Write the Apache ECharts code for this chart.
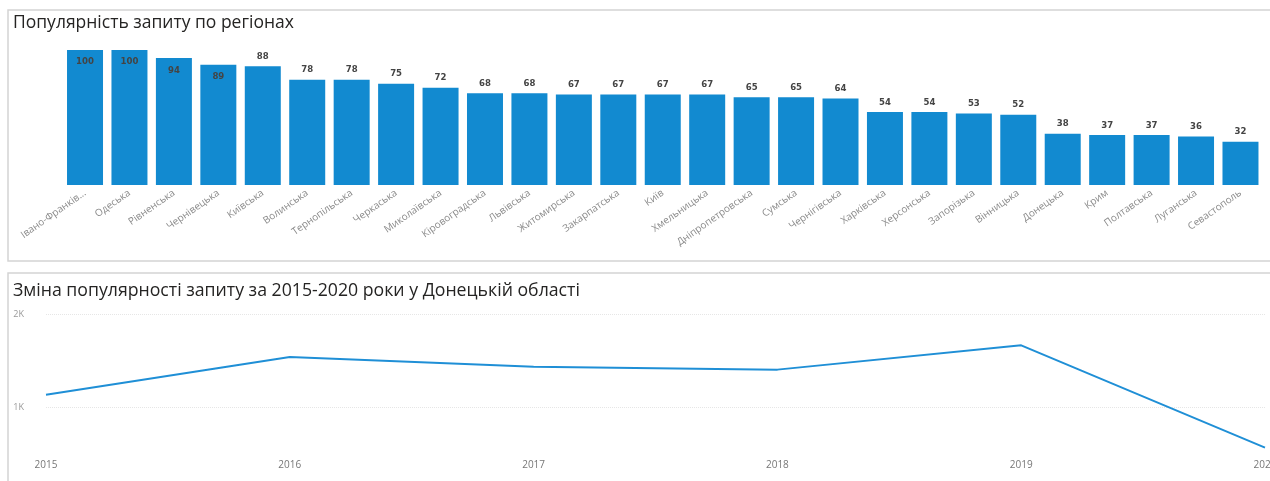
<!DOCTYPE html>
<html>
<head>
<meta charset="utf-8">
<title>Популярність запиту</title>
<script src="https://cdn.jsdelivr.net/npm/echarts@6/dist/echarts.min.js"></script>
<style>
  html, body { margin: 0; padding: 0; background: #fff; }
  #chart { width: 1270px; height: 481px; }
</style>
</head>
<body>
<div id="chart"></div>
<script>
// регіони та популярність запиту
const regions = [
  'Івано-Франківська', 'Одеська', 'Рівненська', 'Чернівецька', 'Київська',
  'Волинська', 'Тернопільська', 'Черкаська', 'Миколаївська', 'Кіровоградська',
  'Львівська', 'Житомирська', 'Закарпатська', 'Київ', 'Хмельницька',
  'Дніпропетровська', 'Сумська', 'Чернігівська', 'Харківська', 'Херсонська',
  'Запорізька', 'Вінницька', 'Донецька', 'Крим', 'Полтавська',
  'Луганська', 'Севастополь'
];
const popularity = [
  100, 100, 94, 89, 88, 78, 78, 75, 72, 68,
  68, 67, 67, 67, 67, 65, 65, 64, 54, 54,
  53, 52, 38, 37, 37, 36, 32
];

// динаміка по роках (Донецька область)
const years = ['2015', '2016', '2017', '2018', '2019', '2020'];
const donetskTrend = [1136, 1540, 1436, 1404, 1664, 568];

const BLUE = '#128ad0';
const FONT = 'Open Sans, Noto Sans, sans-serif';

const chart = echarts.init(document.getElementById('chart'));

// підписи, що не вміщаються над стовпцем, ставимо всередину
const barData = popularity.map(v => ({
  value: v,
  label: v > 88 ? { position: 'insideTop', distance: 7 } : { position: 'top', distance: 5 }
}));

const option = {
  animation: false,
  title: [
    {
      text: 'Популярність запиту по регіонах',
      left: 8, top: 9,
      textStyle: { fontFamily: FONT, fontSize: 17.5, fontWeight: 'normal', color: '#252423' }
    },
    {
      text: 'Зміна популярності запиту за 2015-2020 роки у Донецькій області',
      left: 8, top: 277,
      textStyle: { fontFamily: FONT, fontSize: 17.7, fontWeight: 'normal', color: '#252423' }
    }
  ],
  graphic: [
    {
      type: 'rect', silent: true, z: -1,
      shape: { x: 8, y: 10, width: 1280, height: 251 },
      style: { fill: 'none', stroke: '#d4d4d4', lineWidth: 1.5 }
    },
    {
      type: 'rect', silent: true, z: -1,
      shape: { x: 8, y: 273, width: 1280, height: 230 },
      style: { fill: 'none', stroke: '#d4d4d4', lineWidth: 1.5 }
    }
  ],
  grid: [
    { left: 62.8, right: 7.3, top: 50, height: 135, outerBoundsMode: 'none' },
    { left: 46, right: 5, top: 314, bottom: 27, outerBoundsMode: 'none' }
  ],
  xAxis: [
    {
      gridIndex: 0,
      type: 'category',
      data: regions,
      axisLine: { show: false },
      axisTick: { show: false },
      axisLabel: {
        interval: 0,
        rotate: 35,
        margin: 7,
        fontFamily: FONT,
        fontSize: 10,
        color: '#8a8a8a',
        // довгі назви обрізаються, як у звіті
        formatter: s => (s.length > 16 ? s.slice(0, 13) + '...' : s)
      }
    },
    {
      gridIndex: 1,
      type: 'category',
      data: years,
      boundaryGap: false,
      axisLine: { show: false },
      axisTick: { show: false },
      axisLabel: {
        interval: 0,
        margin: 6,
        fontFamily: FONT,
        fontSize: 10,
        color: '#777'
      }
    }
  ],
  yAxis: [
    {
      gridIndex: 0,
      type: 'value',
      min: 0,
      max: 100,
      show: false
    },
    {
      gridIndex: 1,
      type: 'value',
      min: 500,
      max: 2000,
      interval: 500,
      axisLine: { show: false },
      axisTick: { show: false },
      axisLabel: {
        margin: 22,
        fontFamily: FONT,
        fontSize: 9,
        color: '#999',
        formatter: v => (v % 1000 === 0 ? v / 1000 + 'K' : '')
      },
      splitLine: {
        lineStyle: { color: ['transparent', '#e6e6e6'], type: 'dotted', width: 1 }
      }
    }
  ],
  series: [
    {
      type: 'bar',
      xAxisIndex: 0,
      yAxisIndex: 0,
      data: barData,
      barCategoryGap: '19%',
      itemStyle: { color: BLUE },
      label: {
        show: true,
        fontFamily: 'DejaVu Sans Condensed, sans-serif',
        fontSize: 9.5,
        fontWeight: 'bold',
        color: '#444'
      }
    },
    {
      type: 'line',
      xAxisIndex: 1,
      yAxisIndex: 1,
      data: donetskTrend,
      symbol: 'none',
      lineStyle: { color: '#1f8fd6', width: 2 }
    }
  ]
};

chart.setOption(option);
</script>
</body>
</html>
